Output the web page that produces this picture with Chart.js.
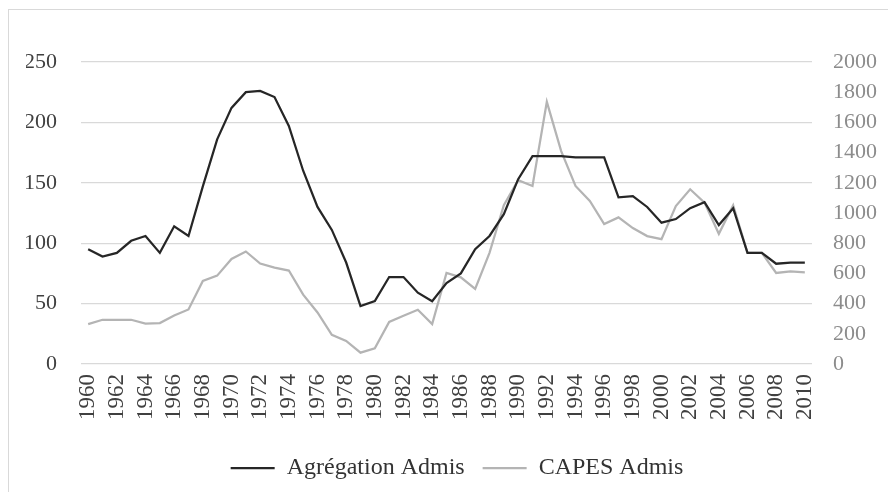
<!DOCTYPE html>
<html>
<head>
<meta charset="utf-8">
<script src="https://cdn.jsdelivr.net/npm/chart.js@4"></script>
<style>
  html, body { margin: 0; padding: 0; background: #fff; overflow: hidden; }
  #frame { position: absolute; left: 8px; top: 9px; width: 1000px; height: 600px; border: 1px solid #d9d9d9; }
  #chart { position: absolute; left: 0; top: 0; }
</style>
</head>
<body>
<div id="frame"></div>
<canvas id="chart" width="888" height="492"></canvas>
<script>
Chart.defaults.animation = false;
Chart.defaults.font.family = "'Liberation Serif', 'Times New Roman', serif";
Chart.defaults.font.size = 22;

// ---- data ----
const years = ["1960","1961","1962","1963","1964","1965","1966","1967","1968","1969",
  "1970","1971","1972","1973","1974","1975","1976","1977","1978","1979",
  "1980","1981","1982","1983","1984","1985","1986","1987","1988","1989",
  "1990","1991","1992","1993","1994","1995","1996","1997","1998","1999",
  "2000","2001","2002","2003","2004","2005","2006","2007","2008","2009","2010"];

const agregation = [95, 89, 92, 102, 106, 92, 114, 106, 147, 186,
  212, 225, 226, 221, 197, 160, 130, 111, 84, 48,
  52, 72, 72, 59, 52, 67, 75, 95, 106, 124,
  153, 172, 172, 172, 171, 171, 171, 138, 139, 130,
  117, 120, 129, 134, 115, 129, 92, 92, 83, 84, 84];

const capes = [264, 293, 293, 293, 268, 271, 321, 361, 550, 585,
  696, 745, 665, 638, 619, 459, 341, 193, 153, 75,
  104, 279, 319, 359, 264, 603, 574, 497, 736, 1051,
  1217, 1179, 1736, 1410, 1179, 1080, 927, 971, 900, 847,
  827, 1046, 1157, 1069, 862, 1051, 736, 736, 603, 614, 607];

const leftTicks = [0, 50, 100, 150, 200, 250];
const rightTicks = [0, 200, 400, 600, 800, 1000, 1200, 1400, 1600, 1800, 2000];

// ---- chart ----
new Chart(document.getElementById("chart"), {
  type: "line",
  data: {
    labels: years,
    datasets: [{
      label: "Agrégation Admis",
      data: agregation,
      yAxisID: "y",
      borderColor: "#262626",
      backgroundColor: "#262626",
      borderWidth: 2.25,
      pointRadius: 0,
      tension: 0,
      fill: false
    }, {
      label: "CAPES Admis",
      data: capes,
      yAxisID: "y1",
      borderColor: "#b4b4b4",
      backgroundColor: "#b4b4b4",
      borderWidth: 2.25,
      pointRadius: 0,
      tension: 0,
      fill: false
    }]
  },
  options: {
    responsive: false,
    animation: false,
    layout: { padding: { left: 26, top: 62, right: 0, bottom: 2 } },
    plugins: {
      tooltip: { enabled: false },
      legend: {
        position: "bottom",
        labels: {
          color: "#333333",
          font: { size: 24 },
          boxWidth: 44,
          boxHeight: 0,
          padding: 18
        }
      }
    },
    scales: {
      x: {
        offset: true,
        grid: { display: false, drawTicks: false },
        border: { display: false },
        ticks: {
          color: "#404040",
          font: { size: 23 },
          autoSkip: false,
          minRotation: 90,
          maxRotation: 90,
          padding: 10,
          callback: (v, i) => (i % 2 === 0 ? years[i] : "")
        },
        afterFit: s => { s.height = 74; }
      },
      y: {
        position: "left",
        min: 0,
        max: 250,
        afterBuildTicks: s => { s.ticks = leftTicks.map(v => ({ value: v })); },
        grid: { color: "#d9d9d9", lineWidth: 1.3, drawTicks: false },
        border: { display: false },
        ticks: { color: "#404040", padding: 24, callback: v => String(v) },
        afterFit: s => { s.width = 55; }
      },
      y1: {
        position: "right",
        min: 0,
        max: 2000,
        afterBuildTicks: s => { s.ticks = rightTicks.map(v => ({ value: v })); },
        grid: { display: false, drawTicks: false },
        border: { display: false },
        ticks: { color: "#8c8c8c", padding: 21, callback: v => String(v) },
        afterFit: s => { s.width = 76; }
      }
    }
  }
});
</script>
</body>
</html>
